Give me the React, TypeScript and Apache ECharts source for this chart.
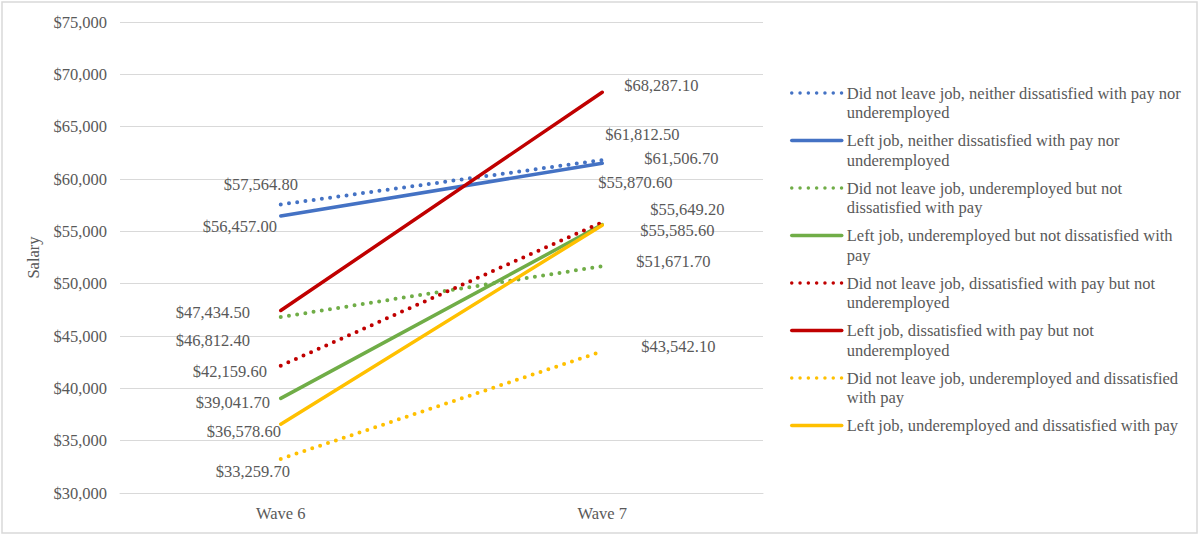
import React, { useEffect, useRef } from 'react';
import * as echarts from 'echarts';

const CATEGORIES = ['Wave 6', 'Wave 7'];

const SERIES_NAMES = [
  'Did not leave job, neither dissatisfied with pay nor underemployed',
  'Left job, neither dissatisfied with pay nor underemployed',
  'Did not leave job, underemployed but not dissatisfied with pay',
  'Left job, underemployed but not dissatisfied with pay',
  'Did not leave job, dissatisfied with pay but not underemployed',
  'Left job, dissatisfied with pay but not underemployed',
  'Did not leave job, underemployed and dissatisfied with pay',
  'Left job, underemployed and dissatisfied with pay',
];

// legend text as wrapped in the reference (line 1, line 2)
const LEGEND_LINES = [
  ['Did not leave job, neither dissatisfied with pay nor', 'underemployed'],
  ['Left job, neither dissatisfied with pay nor', 'underemployed'],
  ['Did not leave job, underemployed but not', 'dissatisfied with pay'],
  ['Left job, underemployed but not dissatisfied with', 'pay'],
  ['Did not leave job, dissatisfied with pay but not', 'underemployed'],
  ['Left job, dissatisfied with pay but not', 'underemployed'],
  ['Did not leave job, underemployed and dissatisfied', 'with pay'],
  ['Left job, underemployed and dissatisfied with pay', ''],
];

const STAYED_NEITHER = [57564.8, 61812.5];
const LEFT_NEITHER = [56457.0, 61506.7];
const STAYED_UNDEREMPLOYED = [46812.4, 51671.7];
const LEFT_UNDEREMPLOYED = [39041.7, 55649.2];
const STAYED_DISSATISFIED = [42159.6, 55870.6];
const LEFT_DISSATISFIED = [47434.5, 68287.1];
const STAYED_BOTH = [33259.7, 43542.1];
const LEFT_BOTH = [36578.6, 55585.6];

const SERIES_VALUES = [
  STAYED_NEITHER,
  LEFT_NEITHER,
  STAYED_UNDEREMPLOYED,
  LEFT_UNDEREMPLOYED,
  STAYED_DISSATISFIED,
  LEFT_DISSATISFIED,
  STAYED_BOTH,
  LEFT_BOTH,
];

const Y_MIN = 30000;
const Y_MAX = 75000;
const Y_STEP = 5000;

// styles (kept apart from data)
const SERIES_COLORS = ['#4472C4', '#4472C4', '#70AD47', '#70AD47', '#C00000', '#C00000', '#FFC000', '#FFC000'];
const SERIES_DOTTED = [true, false, true, false, true, false, true, false];

// data-label placement offsets (px) relative to each point, per category
const WAVE6_LABEL_OFFSETS = [
  [-20, -20],
  [-41, 10],
  [-68, 23],
  [-48, 4],
  [-51, 5.5],
  [-68, 2],
  [-28, 12.5],
  [-37, 7.5],
];
const WAVE7_LABEL_OFFSETS = [
  [40, -26],
  [79, -5],
  [71, -5],
  [85, -15],
  [33, -40],
  [59, -6.5],
  [76, -5],
  [75, 5],
];

const FONT = '"Liberation Serif", "Times New Roman", serif';
const FONT_SIZE = 16.5;
const TEXT_COLOR = '#595959';
const GRID_COLOR = '#d9d9d9';

const fmtMoney2 = (v: number) =>
  '$' + v.toLocaleString('en-US', { minimumFractionDigits: 2, maximumFractionDigits: 2 });
const fmtMoney0 = (v: number) => '$' + v.toLocaleString('en-US');

// three-line box (blank, line1, line2) so that the legend icon sits level with line 1
const legendText = (i: number) => '\n' + LEGEND_LINES[i][0] + '\n' + LEGEND_LINES[i][1];

export default function App() {
  const ref = useRef<HTMLDivElement>(null);

  useEffect(() => {
    if (!ref.current) return;
    const chart = echarts.init(ref.current, undefined, { renderer: 'svg' });

    const series = SERIES_NAMES.map((name, i) => ({
      name,
      type: 'line',
      symbol: 'circle',
      symbolSize: 2,
      showSymbol: true,
      itemStyle: { color: 'transparent', borderWidth: 0 },
      lineStyle: {
        color: SERIES_COLORS[i],
        width: SERIES_DOTTED[i] ? 4 : 3.5,
        type: SERIES_DOTTED[i] ? [0, 8.3] : 'solid',
        cap: 'round',
      },
      emphasis: { disabled: true },
      label: {
        show: true,
        position: 'inside',
        color: TEXT_COLOR,
        fontFamily: FONT,
        fontSize: FONT_SIZE,
        formatter: (p: any) => fmtMoney2(p.value),
      },
      data: SERIES_VALUES[i].map((v, j) => ({
        value: v,
        label: { offset: (j === 0 ? WAVE6_LABEL_OFFSETS : WAVE7_LABEL_OFFSETS)[i] },
      })),
    }));

    chart.setOption({
      animation: false,
      backgroundColor: '#ffffff',
      graphic: [
        {
          type: 'rect',
          silent: true,
          z: -10,
          shape: { x: 2, y: 2, width: 1195, height: 531 },
          style: { fill: 'none', stroke: GRID_COLOR, lineWidth: 1.5 },
        },
      ],
      grid: { left: 120, right: 437, top: 22, bottom: 42, containLabel: false },
      xAxis: {
        type: 'category',
        data: CATEGORIES,
        boundaryGap: true,
        axisLine: { show: true, lineStyle: { color: GRID_COLOR, width: 1 } },
        axisTick: { show: false },
        axisLabel: { color: TEXT_COLOR, fontFamily: FONT, fontSize: FONT_SIZE, margin: 12 },
      },
      yAxis: {
        type: 'value',
        min: Y_MIN,
        max: Y_MAX,
        interval: Y_STEP,
        name: 'Salary',
        nameLocation: 'middle',
        nameGap: 77,
        nameTextStyle: { color: TEXT_COLOR, fontFamily: FONT, fontSize: FONT_SIZE },
        axisLine: { show: false },
        axisTick: { show: false },
        splitLine: { lineStyle: { color: GRID_COLOR, width: 1 } },
        axisLabel: {
          color: TEXT_COLOR,
          fontFamily: FONT,
          fontSize: FONT_SIZE,
          margin: 13,
          formatter: (v: number) => fmtMoney0(v),
        },
      },
      legend: {
        orient: 'vertical',
        left: 790,
        top: 63.75,
        padding: 0,
        itemWidth: 50,
        itemHeight: 4,
        itemGap: -11,
        selectedMode: false,
        lineStyle: { width: 3.5 },
        itemStyle: { opacity: 0 },
        textStyle: {
          color: TEXT_COLOR,
          fontFamily: FONT,
          fontSize: FONT_SIZE,
          lineHeight: 19.5,
        },
        formatter: (name: string) => legendText(SERIES_NAMES.indexOf(name)),
        data: SERIES_NAMES,
      },
      series,
    } as any);

    return () => chart.dispose();
  }, []);

  return (
    <div
      ref={ref}
      style={{ position: 'fixed', left: 0, top: 0, width: 1200, height: 535, background: '#fff' }}
    />
  );
}
